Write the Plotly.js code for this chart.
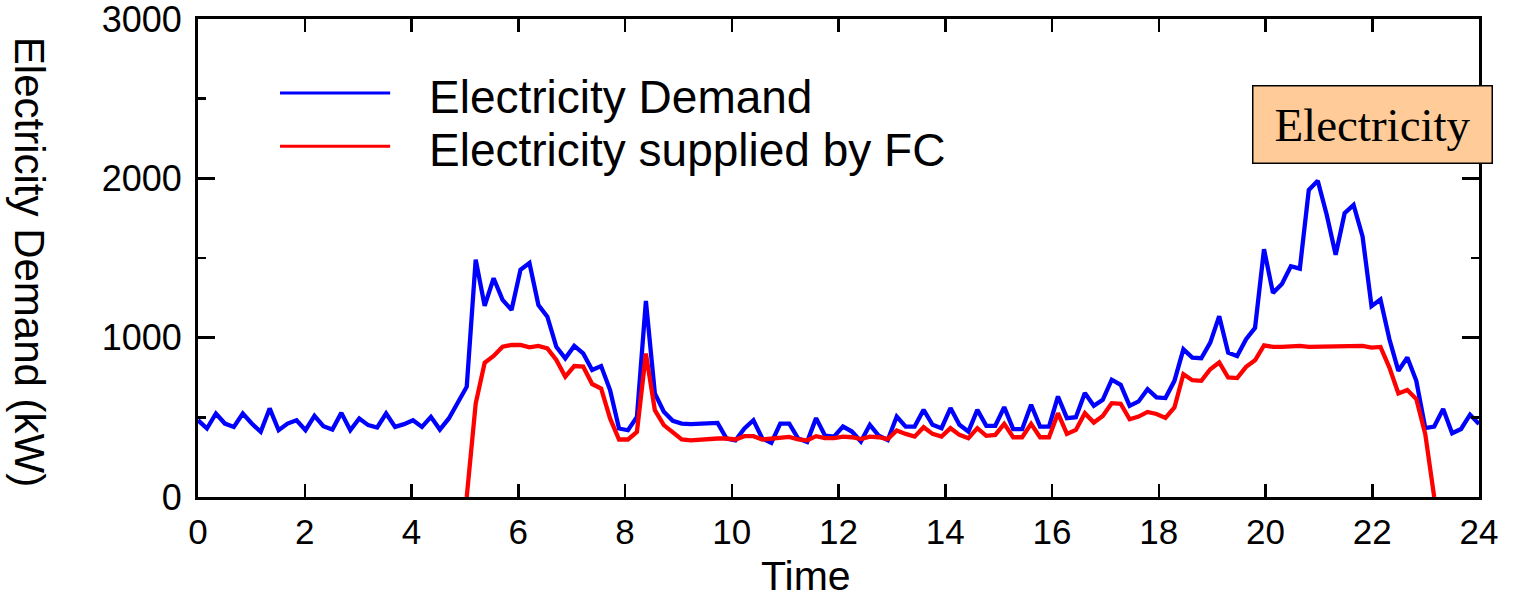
<!DOCTYPE html>
<html>
<head>
<meta charset="utf-8">
<script src="https://cdn.plot.ly/plotly-3.0.1.min.js"></script>
<style>html,body{margin:0;padding:0;background:#fff;}#chart{width:1514px;height:599px;}</style>
</head>
<body>
<div id="chart"></div>
<script>
// 10-minute samples over one day (144 points spanning 0..24 h)
const sampleCount = 144;
const timeHours = Array.from({length: sampleCount}, (_, i) => i * 24 / (sampleCount - 1));

const demandKW = [
  482,430,524,461,440,524,461,409,556,419,
  461,482,419,509,444,423,528,419,493,451,
  436,524,440,457,482,440,503,423,493,597,
  692,1490,1200,1373,1237,1174,
  1426,1468,1205,1132,943,870,948,901,797,822,
  671,430,419,503,1230,650,535,478,461,457,
  461,465,465,367,356,430,482,367,340,461,
  461,367,346,495,385,
  379,442,411,348,453,384,358,505,442,442,
  547,453,432,558,453,411,547,447,447,564,
  426,426,579,442,442,631,495,501,652,572,
  610,736,704,572,600,677,
  625,621,729,927,875,871,969,1135,906,885,
  990,1062,1555,1281,1337,1448,1433,1927,1985,1771,
  1520,1781,1833,1635,1198,1240,990,792,875,729,
  433,442,552,400,427,517,458
];

const fcSupplyKW = [
  null,null,null,null,null,null,null,null,null,null,
  null,null,null,null,null,null,null,null,null,null,
  null,null,null,null,null,null,null,null,null,null,
  0,587,843,885,943,954,
  954,939,948,933,860,755,822,818,709,681,
  493,361,361,409,900,545,451,409,361,356,
  361,361,367,367,361,382,382,361,367,377,
  377,361,356,382,370,
  369,379,375,363,379,375,363,417,396,379,
  438,396,379,432,390,369,432,384,390,459,
  375,375,459,375,375,526,396,421,526,467,
  509,589,585,488,505,534,
  521,496,562,771,733,729,802,844,750,746,
  817,858,952,942,942,948,948,942,942,948,
  942,942,942,948,938,942,812,650,671,615,
  396,0,null,null,null,null,null
];

const seriesNames = ["Electricity Demand", "Electricity supplied by FC"];
const seriesColors = ["#0000FF", "#FF0000"];
const xTickValues = [0,2,4,6,8,10,12,14,16,18,20,22,24];
const yTickValues = [0,1000,2000,3000];

const sansFamily = "Liberation Sans, Arial, sans-serif";
const xTickFont = {family: sansFamily, size: 35, color: "#000"};
const yTickFont = {family: sansFamily, size: 36, color: "#000"};

const traces = [
  {x: timeHours, y: demandKW, type: "scatter", mode: "lines", name: seriesNames[0],
   line: {color: seriesColors[0], width: 4.3}, connectgaps: false},
  {x: timeHours, y: fcSupplyKW, type: "scatter", mode: "lines", name: seriesNames[1],
   line: {color: seriesColors[1], width: 4.3}, connectgaps: false}
];

// Manual legend (long sample lines like the reference)
const legendY = [0.845, 0.734];
const shapes = legendY.map((yy, k) => ({
  type: "line", xref: "paper", yref: "paper",
  x0: 0.064, x1: 0.150, y0: yy, y1: yy,
  line: {color: seriesColors[k], width: 3}
}));
const annotations = legendY.map((yy, k) => ({
  xref: "paper", yref: "paper", x: 0.1788, y: yy - 0.008,
  xanchor: "left", yanchor: "middle", showarrow: false,
  text: seriesNames[k],
  font: {family: sansFamily, size: 46, color: "#000"}
}));
annotations.push({
  xref: "paper", yref: "paper", x: 0.917, y: 0.780,
  xanchor: "center", yanchor: "middle", showarrow: false,
  text: "Electricity",
  font: {family: "Liberation Serif, Times New Roman, serif", size: 47, color: "#000"},
  bgcolor: "#FFCC99", bordercolor: "#000", borderwidth: 1.5, borderpad: 1,
  width: 236, height: 74
});
// x-axis title (placed slightly left of centre as in the reference)
annotations.push({
  xref: "paper", yref: "paper", x: 0.4746, y: -0.165,
  xanchor: "center", yanchor: "middle", showarrow: false,
  text: "Time",
  font: {family: sansFamily, size: 41, color: "#000"}
});
// y-axis title, reading top-to-bottom as in the reference
annotations.push({
  xref: "paper", yref: "paper", x: -0.131, y: 0.4916,
  xanchor: "center", yanchor: "middle", showarrow: false,
  textangle: 90,
  text: "Electricity Demand (kW)",
  font: {family: sansFamily, size: 42, color: "#000"}
});

const layout = {
  width: 1514, height: 599,
  margin: {l: 198, r: 35, t: 19, b: 102},
  paper_bgcolor: "#fff", plot_bgcolor: "#fff",
  showlegend: false,
  xaxis: {
    range: [0, 24], tickvals: xTickValues, ticktext: xTickValues.map(String),
    ticks: "inside", ticklen: 13, tickwidth: 2.5, tickcolor: "#000",
    showline: true, linewidth: 3, linecolor: "#000", mirror: "ticks",
    showgrid: false, zeroline: false, tickfont: xTickFont, ticklabelstandoff: 2,
    ticklabeloverflow: "allow"
  },
  yaxis: {
    range: [0, 3000], tickvals: yTickValues, ticktext: yTickValues.map(String),
    ticks: "inside", ticklen: 17, tickwidth: 2.5, tickcolor: "#000",
    minor: {dtick: 500, ticks: "inside", ticklen: 8, tickwidth: 2.5, tickcolor: "#000"},
    showline: true, linewidth: 3, linecolor: "#000", mirror: "ticks",
    showgrid: false, zeroline: false, tickfont: yTickFont, ticklabelstandoff: 6,
    ticklabeloverflow: "allow"
  },
  shapes: shapes,
  annotations: annotations
};

Plotly.newPlot("chart", traces, layout, {displayModeBar: false, staticPlot: true});
</script>
</body>
</html>
